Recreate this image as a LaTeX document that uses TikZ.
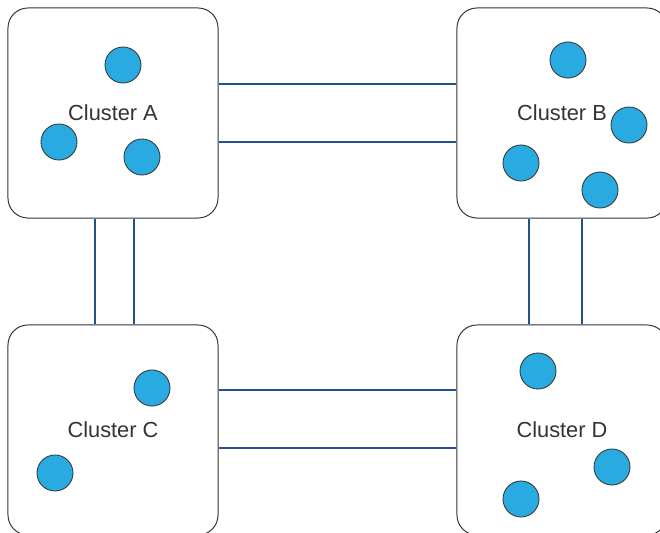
\documentclass[tikz,border=0pt]{standalone}
\usepackage{fontspec}
\setmainfont{Liberation Sans}
\definecolor{dotblue}{HTML}{29ABE2}
\definecolor{linkblue}{HTML}{23508E}
\definecolor{frame}{HTML}{333333}
\tikzset{
    cluster/.style={draw=frame, line width=0.7pt, rounded corners=0.5cm, minimum width=5.25cm,
        minimum height=5.25cm, inner sep=0pt, text=frame, font=\fontsize{15.5}{18}\selectfont},
    dot/.style={circle, draw=frame, line width=0.6pt, fill=dotblue, minimum size=0.9cm, inner sep=0pt},
    link/.style={draw=linkblue, line width=1.1pt}
}
\begin{document}
\begin{tikzpicture}[x=0.025cm, y=-0.025cm]
        \useasboundingbox (0,0) rectangle (660,533);
        \clip (0,0) rectangle (660,533);
        \node[cluster] (A) at (113,113) {Cluster A};
        \node[cluster] (B) at (562,113) {Cluster B};
        \node[cluster] (C) at (113,430) {Cluster C};
        \node[cluster] (D) at (562,430) {Cluster D};
        \draw[link] ([yshift=0.725cm]A.east) -- ([yshift=0.725cm]B.west);
        \draw[link] ([yshift=-0.725cm]A.east) -- ([yshift=-0.725cm]B.west);
        \draw[link] ([yshift=1cm]C.east) -- ([yshift=1cm]D.west);
        \draw[link] ([yshift=-0.45cm]C.east) -- ([yshift=-0.45cm]D.west);
        \draw[link] ([xshift=-0.45cm]A.south) -- ([xshift=-0.45cm]C.north);
        \draw[link] ([xshift=0.525cm]A.south) -- ([xshift=0.525cm]C.north);
        \draw[link] ([xshift=-0.825cm]B.south) -- ([xshift=-0.825cm]D.north);
        \draw[link] ([xshift=0.5cm]B.south) -- ([xshift=0.5cm]D.north);
        \node[dot] (a1) at (123,65) {};
        \node[dot] (a2) at (59,142) {};
        \node[dot] (a3) at (142,157) {};
        \node[dot] (b1) at (568,60) {};
        \node[dot] (b2) at (629,125) {};
        \node[dot] (b3) at (521,163) {};
        \node[dot] (b4) at (600,190) {};
        \node[dot] (c1) at (152,388) {};
        \node[dot] (c2) at (55,473) {};
        \node[dot] (d1) at (538,371) {};
        \node[dot] (d2) at (612,467) {};
        \node[dot] (d3) at (521,499) {};
    \end{tikzpicture}
\end{document}
